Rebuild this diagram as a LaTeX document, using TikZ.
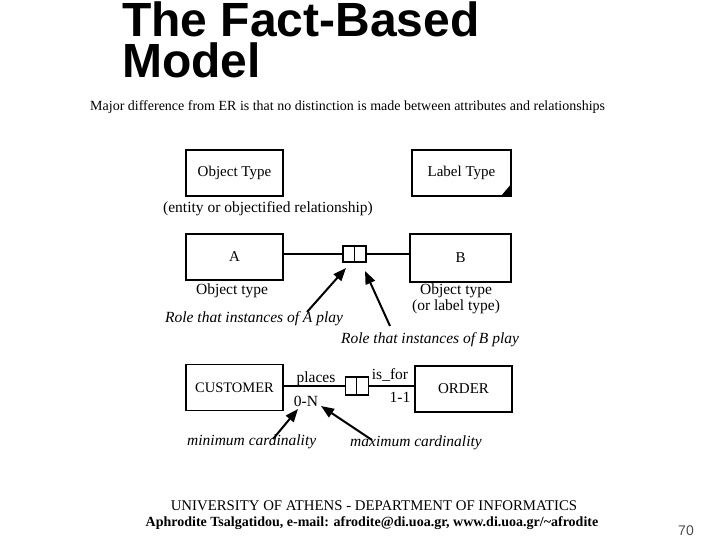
\documentclass[tikz,border=0pt]{standalone}
\usepackage{fontspec}
\setmainfont{Liberation Serif}
\newfontfamily\titlefont{Liberation Sans}
\usetikzlibrary{arrows.meta}
\begin{document}
\begin{tikzpicture}[x=1pt,y=-1pt,
  box/.style={draw, line width=1.1pt, inner sep=0pt, minimum width=97pt, minimum height=46pt, font=\fontsize{15}{17}\selectfont},
  rolebox/.style={draw, line width=1.1pt, inner sep=0pt, minimum width=11.5pt, minimum height=16pt},
  lbl/.style={inner sep=0pt, font=\fontsize{15.5}{15.5}\selectfont},
  ital/.style={inner sep=0pt, font=\fontsize{15.5}{17}\selectfont\itshape},
  conn/.style={line width=1.1pt},
  titlestyle/.style={anchor=base west, inner sep=0pt, font=\titlefont\bfseries\fontsize{48}{41}\selectfont},
  pointer/.style={line width=2pt, -{Triangle[length=13pt,width=10pt]}}]
\useasboundingbox (0,0) rectangle (720,540);
% title
\node[titlestyle, text depth=0pt] (t1) at (122,37) {The Fact-Based};
\node[titlestyle, text height=34pt] (t2) at (122,78) {Model};
\node[anchor=base west, inner sep=0pt, font=\fontsize{14}{15}\selectfont] (sub) at (90,111) {Major difference from ER is that no distinction is made between attributes and relationships};
% row 1
\node[box] (ot) at (234.5,173) {Object Type};
\node[box, minimum width=99pt] (lt) at (461.5,173) {Label Type};
\fill ([yshift=13pt]lt.south east) -- (lt.south east) -- ([xshift=-11pt]lt.south east) -- cycle;
\node[lbl] (otc) at (268,209) {(entity or objectified relationship)};
% row 2
\node[box] (a) at (234.5,257) {A};
\node[box, minimum width=101pt, minimum height=48pt] (b) at (460.5,258) {B};
\node[rolebox] (ra) at (348.75,254) {};
\node[rolebox] (rb) at (360.25,254) {};
\draw[conn] (a.east |- ra.west) -- (ra.west);
\draw[conn] (rb.east) -- (b.west |- rb.east);
\node[lbl] (aot) at (232,291) {Object type};
\node[lbl, align=center] (bot) at (456,299) {Object type\\(or label type)};
\node[ital, anchor=west] (rolea) at (165,319) {Role that instances of A play};
\node[ital, anchor=west] (roleb) at (341,340) {Role that instances of B play};
\coordinate (pa1) at (307,312);
\coordinate (pa2) at (346,268);
\coordinate (pb1) at (390,326);
\coordinate (pb2) at (365,271);
\draw[pointer] (pa1) -- (pa2);
\draw[pointer] (pb1) -- (pb2);
% row 3
\node[box, font=\fontsize{14.5}{16}\selectfont] (cu) at (234.5,387.5) {CUSTOMER};
\node[box, minimum width=97pt, font=\fontsize{15}{16}\selectfont] (or) at (463.5,389) {ORDER};
\node[rolebox, minimum height=18pt] (rc) at (351,386) {};
\node[rolebox, minimum height=18pt] (rd) at (362.5,386) {};
\draw[conn] (cu.east |- rc.west) -- (rc.west);
\draw[conn] (rd.east) -- (or.west |- rd.east);
\node[lbl] (places) at (316,379) {places};
\node[lbl] (isfor) at (390,375) {is\_for};
\node[lbl] (oneone) at (400,397) {1-1};
\node[lbl] (zeron) at (306,401) {0-N};
\node[ital, anchor=west] (minc) at (187,442) {minimum cardinality};
\node[ital, anchor=west] (maxc) at (350,443) {maximum cardinality};
\coordinate (pc1) at (273,439);
\coordinate (pc2) at (298,409);
\coordinate (pd1) at (372,440);
\coordinate (pd2) at (321,406);
\draw[pointer] (pc1) -- (pc2);
\draw[pointer] (pd1) -- (pd2);
% footer
\node[inner sep=0pt, font=\fontsize{14.8}{16}\selectfont] (f1) at (374,506) {UNIVERSITY OF ATHENS - DEPARTMENT OF INFORMATICS};
\node[inner sep=0pt, font=\bfseries\fontsize{14}{15}\selectfont] (f2) at (372,523) {Aphrodite Tsalgatidou, e-mail: afrodite@di.uoa.gr, www.di.uoa.gr/\textasciitilde afrodite};
\node[inner sep=0pt, font=\titlefont\fontsize{14}{16}\selectfont, text=black!70] (pg) at (686,531) {70};
\end{tikzpicture}
\end{document}
